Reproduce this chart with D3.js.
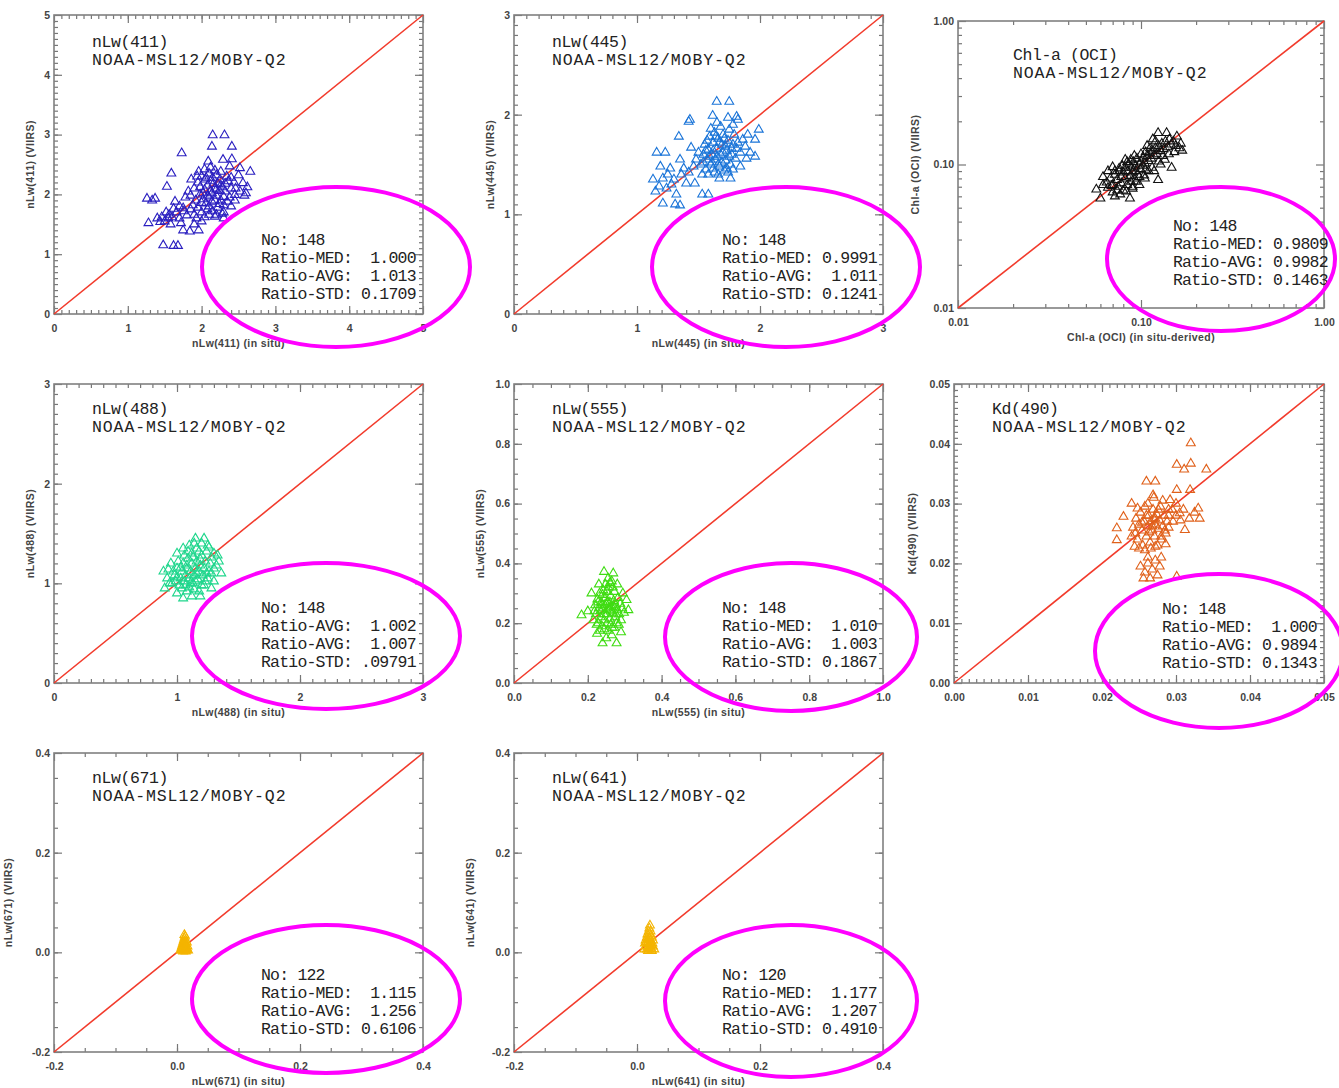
<!DOCTYPE html>
<html><head><meta charset="utf-8">
<script src="https://cdn.jsdelivr.net/npm/d3@7"></script>
<style>body{margin:0;background:#fff}</style>
</head><body><svg id="c" width="1339" height="1088"></svg>
<script>
// ---------------- DATA ----------------
const nlw411 = [[2.15,2.99],[2.31,2.99],[2.14,2.80],[2.41,2.80],[1.73,2.69],[2.09,2.55],[2.29,2.58],[2.41,2.59],[1.59,2.35],[2.66,2.38],[2.52,2.44],[1.53,2.13],[1.26,1.93],[1.37,1.93],[1.33,1.90],[1.28,1.52],[1.44,1.54],[1.55,1.60],[1.48,1.15],[1.62,1.14],[1.68,1.14],[1.75,1.40],[1.84,1.38],[1.96,1.40],[1.64,1.88],[1.75,1.77],[1.93,1.60],[2.18,1.63],[2.45,1.99],[2.56,2.19],[2.44,2.20],[2.60,2.02],[2.52,2.05],[1.80,1.65],[1.85,1.75],[1.40,1.60],[1.60,1.62],[1.70,1.60],[2.30,1.70],[2.38,2.47],
[1.90,2.10],[1.95,2.20],[2.00,2.30],[2.05,2.25],[2.10,2.35],[2.15,2.28],[2.20,2.32],[2.25,2.25],[2.08,2.15],[2.12,2.05],[2.18,2.10],[2.22,2.18],[2.28,2.12],[2.32,2.05],[1.98,2.00],[2.02,1.92],[2.06,1.85],[2.10,1.95],[2.14,1.88],[2.20,1.98],[2.26,1.90],[2.30,1.82],[1.92,1.90],[1.88,1.82],[1.95,1.78],[2.00,1.70],[2.08,1.75],[2.15,1.72],[2.22,1.78],[2.28,1.68],[1.96,2.38],[2.04,2.42],[2.12,2.45],[2.18,2.40],[2.26,2.38],[2.34,2.30],[2.36,2.22],[2.40,2.10],[2.38,1.95],[2.35,1.88],[1.86,2.25],[1.82,2.05],[1.78,1.95],[1.85,1.98],[2.04,2.08],[2.16,2.18],[2.24,2.06],[2.06,2.28],[2.12,2.22],[1.98,2.12],[2.02,2.02],[2.08,1.98],[2.14,2.02],[2.20,2.08],[2.26,2.15],[2.32,2.18],[1.94,2.30],[2.00,1.86],[2.10,1.80],[2.18,1.90],[2.24,1.84],[2.30,1.96],[2.40,2.28],[2.46,2.10],[2.50,2.32],[2.58,1.98],[2.62,2.12],[2.20,1.66],[2.10,1.66],[2.30,1.60],[1.90,1.66],[1.76,1.72],[1.70,1.80],[1.66,1.70],[1.56,1.66],[1.50,1.55],[1.46,1.62],[1.52,1.70],[1.62,1.76],[1.58,1.50],[1.72,1.52],[1.90,1.50],[2.00,1.55],[2.04,1.62],[2.40,1.80],[2.45,1.90]];

const nlw445 = [[1.648,2.13],[1.75,2.13],[1.615,1.99],[1.81,1.98],[1.74,1.97],[1.82,1.95],[1.42,1.93],[1.65,1.92],[1.34,1.78],[1.99,1.85],[1.90,1.80],[1.96,1.75],[1.44,1.67],[1.16,1.62],[1.23,1.62],[1.96,1.58],[1.89,1.56],[1.19,1.48],[1.27,1.46],[1.35,1.55],[1.38,1.46],[1.13,1.35],[1.21,1.36],[1.30,1.35],[1.15,1.23],[1.24,1.26],[1.32,1.20],[1.21,1.11],[1.31,1.10],[1.35,1.09],[1.53,1.20],[1.58,1.20],[1.40,1.31],[1.47,1.31],[1.67,1.36],[1.76,1.36],[1.84,1.48],[1.43,1.95],[1.25,1.40],[1.18,1.28],[1.28,1.30],[1.36,1.40],[1.42,1.42],[1.88,1.68],[1.92,1.62],[1.86,1.75],[1.78,1.90],
[1.52,1.50],[1.54,1.60],[1.55,1.70],[1.56,1.45],[1.57,1.55],[1.58,1.65],[1.59,1.78],[1.60,1.50],[1.61,1.60],[1.62,1.72],[1.63,1.82],[1.63,1.42],[1.64,1.55],[1.65,1.66],[1.66,1.76],[1.67,1.48],[1.68,1.60],[1.69,1.70],[1.70,1.80],[1.71,1.44],[1.72,1.54],[1.73,1.64],[1.74,1.74],[1.75,1.85],[1.76,1.50],[1.77,1.60],[1.78,1.70],[1.79,1.80],[1.80,1.56],[1.81,1.66],[1.53,1.40],[1.58,1.40],[1.66,1.40],[1.74,1.42],[1.78,1.45],[1.60,1.86],[1.68,1.88],[1.57,1.74],[1.62,1.64],[1.65,1.58],[1.70,1.62],[1.72,1.68],[1.67,1.72],[1.64,1.78],[1.61,1.52],[1.69,1.52],[1.75,1.58],[1.59,1.58],[1.50,1.62],[1.48,1.55],[1.46,1.48],[1.82,1.72],[1.84,1.62],[1.77,1.66],[1.71,1.76],[1.66,1.50],[1.73,1.46],[1.62,1.46],[1.56,1.64],[1.54,1.52]];

const chla = [[0.124,0.166],[0.138,0.166],[0.157,0.157],[0.162,0.130],[0.147,0.095],[0.124,0.078],[0.057,0.067],[0.069,0.071],[0.060,0.058],[0.072,0.060],[0.087,0.058],
[0.065,0.075],[0.068,0.080],[0.070,0.072],[0.072,0.085],[0.074,0.078],[0.075,0.070],[0.076,0.090],[0.078,0.082],[0.078,0.074],[0.080,0.088],[0.080,0.066],[0.082,0.095],[0.082,0.080],[0.084,0.072],[0.085,0.090],[0.086,0.100],[0.087,0.083],[0.088,0.076],[0.089,0.095],[0.090,0.088],[0.091,0.104],[0.092,0.080],[0.093,0.097],[0.094,0.090],[0.095,0.110],[0.096,0.085],[0.098,0.100],[0.099,0.093],[0.100,0.105],[0.102,0.098],[0.103,0.112],[0.105,0.102],[0.106,0.092],[0.108,0.115],[0.110,0.106],[0.112,0.120],[0.114,0.110],[0.116,0.125],[0.118,0.115],[0.120,0.130],[0.122,0.118],[0.125,0.135],[0.128,0.124],[0.130,0.140],[0.133,0.128],[0.136,0.145],[0.140,0.132],[0.143,0.150],[0.146,0.138],[0.150,0.145],[0.135,0.108],[0.128,0.100],[0.118,0.090],[0.110,0.090],[0.104,0.084],[0.070,0.064],[0.074,0.066],[0.066,0.069],[0.062,0.072],[0.077,0.062],[0.083,0.065],[0.090,0.070],[0.094,0.076],[0.098,0.082],[0.079,0.098],[0.084,0.104],[0.088,0.108],[0.076,0.094],[0.072,0.090],[0.100,0.118],[0.106,0.122],[0.112,0.130],[0.120,0.145],[0.152,0.122],[0.142,0.118],[0.155,0.135],
[0.062,0.082],[0.066,0.090],[0.070,0.096],[0.090,0.068],[0.098,0.072],[0.105,0.080],[0.115,0.095],[0.125,0.105],[0.132,0.115],[0.108,0.135],[0.116,0.150],[0.092,0.115],[0.082,0.108],[0.165,0.140],[0.168,0.125]];

const nlw488 = [[1.15,1.45],[1.22,1.45],[1.12,0.87],[1.19,0.87],[0.89,1.12],[0.90,0.95],[1.34,1.22],[1.36,1.10],[1.30,1.30],[1.05,1.35],[1.00,1.30],[1.25,1.38],[0.95,1.20],[0.92,1.05],[1.30,1.02],[1.28,0.95],[1.00,0.90],[1.05,0.85],
[0.96,1.00],[0.98,1.08],[1.00,1.15],[1.02,0.98],[1.03,1.05],[1.04,1.12],[1.05,1.20],[1.06,1.02],[1.07,1.08],[1.08,1.15],[1.09,1.25],[1.10,0.96],[1.10,1.05],[1.11,1.12],[1.12,1.20],[1.12,1.30],[1.13,1.00],[1.14,1.08],[1.15,1.15],[1.16,1.22],[1.16,1.35],[1.17,1.04],[1.18,1.12],[1.19,1.18],[1.20,1.28],[1.20,0.98],[1.21,1.08],[1.22,1.15],[1.23,1.22],[1.24,1.32],[1.25,1.05],[1.26,1.12],[1.27,1.20],[1.28,1.26],[1.30,1.15],[1.32,1.18],[1.01,1.22],[0.97,1.12],[0.99,1.02],[1.04,0.95],[1.08,0.92],[1.14,0.94],[1.18,0.92],[1.22,0.98],[1.06,1.28],[1.10,1.38],[1.14,1.40],[1.20,1.40],[1.18,1.32],[1.13,1.26],[1.08,1.18],[1.03,1.16],[1.00,1.06],[0.94,1.00],[0.93,1.14],[1.11,1.00],[1.15,1.02],[1.24,1.10],[1.28,1.10],[1.33,1.28],[1.26,1.36],[1.09,1.32],[1.07,0.98],[1.16,1.10],[1.19,1.24],[1.23,1.02]];

const nlw555 = [[0.244,0.372],[0.269,0.367],[0.240,0.133],[0.278,0.133],[0.183,0.227],[0.305,0.278],[0.310,0.244],[0.255,0.350],[0.265,0.340],[0.230,0.330],[0.250,0.150],[0.265,0.160],[0.225,0.165],[0.290,0.170],[0.200,0.240],[0.295,0.300],[0.210,0.300],[0.280,0.330],
[0.215,0.210],[0.220,0.260],[0.222,0.230],[0.226,0.280],[0.228,0.200],[0.230,0.250],[0.232,0.300],[0.235,0.220],[0.236,0.270],[0.238,0.190],[0.240,0.245],[0.242,0.310],[0.244,0.210],[0.246,0.260],[0.248,0.285],[0.250,0.230],[0.252,0.200],[0.254,0.270],[0.256,0.320],[0.258,0.245],[0.260,0.215],[0.262,0.290],[0.264,0.255],[0.266,0.185],[0.268,0.235],[0.270,0.275],[0.272,0.305],[0.274,0.220],[0.276,0.260],[0.278,0.200],[0.280,0.245],[0.282,0.285],[0.285,0.230],[0.288,0.265],[0.290,0.210],[0.293,0.250],[0.298,0.235],[0.218,0.240],[0.224,0.195],[0.233,0.175],[0.245,0.180],[0.255,0.175],[0.262,0.195],[0.272,0.185],[0.284,0.195],[0.248,0.330],[0.260,0.335],[0.240,0.295],[0.252,0.305],[0.268,0.320],[0.234,0.240],[0.244,0.230],[0.256,0.250],[0.266,0.240],[0.276,0.230],[0.250,0.265],[0.260,0.270],[0.238,0.260],[0.228,0.270],[0.270,0.255]];

const kd490 = [[0.0320,0.0401],[0.0301,0.0365],[0.0311,0.0357],[0.0320,0.0367],[0.0341,0.0357],[0.0260,0.0337],[0.0272,0.0337],[0.0269,0.0314],[0.0301,0.0323],[0.0319,0.0323],[0.0330,0.0292],[0.0332,0.0275],[0.0240,0.0300],[0.0220,0.0259],[0.0220,0.0239],[0.0229,0.0278],[0.0312,0.0256],[0.0305,0.0284],[0.0292,0.0306],[0.0301,0.0178],[0.0325,0.0285],[0.0318,0.0275],[0.0310,0.0290],[0.0300,0.0300],[0.0295,0.0290],[0.0290,0.0280],[0.0285,0.0255],[0.0280,0.0245],
[0.0252,0.0195],[0.0258,0.0185],[0.0262,0.0200],[0.0268,0.0190],[0.0272,0.0205],[0.0278,0.0195],[0.0280,0.0210],[0.0256,0.0175],[0.0265,0.0175],[0.0275,0.0180],[0.0262,0.0210],
[0.0242,0.0260],[0.0245,0.0250],[0.0246,0.0275],[0.0248,0.0240],[0.0250,0.0265],[0.0252,0.0285],[0.0254,0.0255],[0.0255,0.0230],[0.0257,0.0270],[0.0258,0.0295],[0.0260,0.0245],[0.0262,0.0262],[0.0263,0.0280],[0.0265,0.0235],[0.0266,0.0270],[0.0268,0.0255],[0.0269,0.0290],[0.0270,0.0275],[0.0271,0.0245],[0.0272,0.0265],[0.0274,0.0282],[0.0275,0.0230],[0.0276,0.0258],[0.0278,0.0272],[0.0279,0.0295],[0.0280,0.0240],[0.0282,0.0262],[0.0284,0.0280],[0.0286,0.0250],[0.0288,0.0270],[0.0290,0.0290],[0.0244,0.0228],[0.0250,0.0225],[0.0258,0.0222],[0.0266,0.0225],[0.0272,0.0228],[0.0240,0.0245],[0.0248,0.0292],[0.0262,0.0300],[0.0270,0.0310],[0.0282,0.0305],[0.0296,0.0270],[0.0300,0.0280],[0.0306,0.0272],[0.0264,0.0252],[0.0268,0.0262],[0.0272,0.0275],[0.0260,0.0280],[0.0276,0.0290],[0.0254,0.0268],[0.0286,0.0232],[0.0290,0.0260]];

const nlw671 = [[0.006,0.004],[0.009,0.004],[0.012,0.004],[0.015,0.004],[0.018,0.004],[0.007,0.008],[0.010,0.008],[0.013,0.008],[0.016,0.008],[0.008,0.012],[0.011,0.012],[0.014,0.012],[0.017,0.012],[0.009,0.016],[0.012,0.016],[0.015,0.016],[0.010,0.020],[0.013,0.020],[0.016,0.020],[0.011,0.024],[0.014,0.024],[0.012,0.028],[0.013,0.032],[0.012,0.035],[0.010,0.002],[0.014,0.002],[0.016,0.006],[0.008,0.006],[0.012,0.010],[0.012,0.014],[0.013,0.018],[0.011,0.006],[0.015,0.010]];

const nlw641 = [[0.012,0.006],[0.016,0.006],[0.020,0.006],[0.024,0.006],[0.028,0.006],[0.014,0.012],[0.018,0.012],[0.022,0.012],[0.026,0.012],[0.013,0.018],[0.017,0.018],[0.021,0.018],[0.025,0.018],[0.014,0.024],[0.018,0.024],[0.022,0.024],[0.026,0.024],[0.016,0.030],[0.020,0.030],[0.024,0.030],[0.017,0.036],[0.021,0.036],[0.019,0.042],[0.022,0.042],[0.020,0.048],[0.021,0.054],[0.019,0.009],[0.023,0.015],[0.015,0.021],[0.020,0.027],[0.023,0.033],[0.018,0.003],[0.024,0.003]];

const series = [nlw411, nlw445, chla, nlw488, nlw555, kd490, nlw671, nlw641];
const titles = ["nLw(411)", "nLw(445)", "Chl-a (OCI)", "nLw(488)", "nLw(555)", "Kd(490)", "nLw(671)", "nLw(641)"];
const subtitle = "NOAA-MSL12/MOBY-Q2";
const xTitles = ["nLw(411) (in situ)", "nLw(445) (in situ)", "Chl-a (OCI) (in situ-derived)", "nLw(488) (in situ)", "nLw(555) (in situ)", "", "nLw(671) (in situ)", "nLw(641) (in situ)"];
const yTitles = ["nLw(411) (VIIRS)", "nLw(445) (VIIRS)", "Chl-a (OCI) (VIIRS)", "nLw(488) (VIIRS)", "nLw(555) (VIIRS)", "Kd(490) (VIIRS)", "nLw(671) (VIIRS)", "nLw(641) (VIIRS)"];
const statsLines = [
  ["No: 148", "Ratio-MED:  1.000", "Ratio-AVG:  1.013", "Ratio-STD: 0.1709"],
  ["No: 148", "Ratio-MED: 0.9991", "Ratio-AVG:  1.011", "Ratio-STD: 0.1241"],
  ["No: 148", "Ratio-MED: 0.9809", "Ratio-AVG: 0.9982", "Ratio-STD: 0.1463"],
  ["No: 148", "Ratio-AVG:  1.002", "Ratio-AVG:  1.007", "Ratio-STD: .09791"],
  ["No: 148", "Ratio-MED:  1.010", "Ratio-AVG:  1.003", "Ratio-STD: 0.1867"],
  ["No: 148", "Ratio-MED:  1.000", "Ratio-AVG: 0.9894", "Ratio-STD: 0.1343"],
  ["No: 122", "Ratio-MED:  1.115", "Ratio-AVG:  1.256", "Ratio-STD: 0.6106"],
  ["No: 120", "Ratio-MED:  1.177", "Ratio-AVG:  1.207", "Ratio-STD: 0.4910"]
];
const domains = [[0,5],[0,3],[0.01,1],[0,3],[0,1],[0,0.05],[-0.2,0.4],[-0.2,0.4]];
const tickValues = [[0,1,2,3,4,5],[0,1,2,3],[0.01,0.1,1],[0,1,2,3],[0,0.2,0.4,0.6,0.8,1.0],[0,0.01,0.02,0.03,0.04,0.05],[-0.2,0,0.2,0.4],[-0.2,0,0.2,0.4]];
const tickLabels = [["0","1","2","3","4","5"],["0","1","2","3"],["0.01","0.10","1.00"],["0","1","2","3"],["0.0","0.2","0.4","0.6","0.8","1.0"],["0.00","0.01","0.02","0.03","0.04","0.05"],["-0.2","0.0","0.2","0.4"],["-0.2","0.0","0.2","0.4"]];
const minorPerMajor = [10, 10, 0, 10, 4, 10, 4, 4];

// ---------------- LAYOUT / STYLE ----------------
const frames = [
  {x0:54,x1:423,y0:15,y1:314}, {x0:514,x1:883,y0:15,y1:314}, {x0:958,x1:1324,y0:21,y1:308},
  {x0:54,x1:423,y0:384,y1:683}, {x0:514,x1:883,y0:384,y1:683}, {x0:954,x1:1324,y0:384,y1:683},
  {x0:54,x1:423,y0:753,y1:1052}, {x0:514,x1:883,y0:753,y1:1052}
];
const titleOff = [[38,32],[38,32],[55,39],[38,30],[38,30],[38,30],[38,30],[38,30]];
const statsOff = [[207,230],[208,230],[215,210],[207,229],[208,229],[208,230],[207,227],[208,227]];
const yTitleOff = [24,24,43,24,34,42,46,44];
const ellipses = [[336,267,134,80],[786,267,134,80],[1221,259,114,72],[326,636,134,73],[791,637,126,74],[1219,651,124,77],[326,999,134,74],[791,1001,126,76]];
const colors = ["#2a1fc0","#1a74d8","#111111","#1ed68c","#3fdc12","#e0601a","#f4b400","#f4b400"];

const svg = d3.select("#c");
const tri = d3.symbol().type(d3.symbolTriangle).size(34);
const mono = "'Liberation Mono','DejaVu Sans Mono',monospace";
const sans = "'Liberation Sans',Arial,sans-serif";

series.forEach((data, i) => {
  const f = frames[i];
  const isLog = i === 2;
  const x = (isLog ? d3.scaleLog() : d3.scaleLinear()).domain(domains[i]).range([f.x0, f.x1]);
  const y = (isLog ? d3.scaleLog() : d3.scaleLinear()).domain(domains[i]).range([f.y1, f.y0]);
  const g = svg.append("g");

  // minor ticks
  let minors = [];
  if (isLog) {
    [0.01, 0.1].forEach(b => { for (let k = 2; k <= 9; k++) minors.push(b * k); });
  } else {
    const tv = tickValues[i], step = (tv[1] - tv[0]) / minorPerMajor[i];
    const n = Math.round((domains[i][1] - domains[i][0]) / step);
    for (let k = 1; k < n; k++) minors.push(domains[i][0] + k * step);
  }
  const mk = (axisFn, scale, vals, size) => axisFn(scale).tickValues(vals).tickSize(size).tickFormat("");
  const axes = [
    [d3.axisBottom, x, `translate(0,${f.y1})`],
    [d3.axisTop, x, `translate(0,${f.y0})`],
    [d3.axisLeft, y, `translate(${f.x0},0)`],
    [d3.axisRight, y, `translate(${f.x1},0)`]
  ];
  axes.forEach(([fn, sc, tr]) => {
    const a1 = g.append("g").attr("transform", tr).call(mk(fn, sc, minors, -4));
    const a2 = g.append("g").attr("transform", tr).call(mk(fn, sc, tickValues[i], -8));
    [a1, a2].forEach(a => { a.select(".domain").remove(); a.selectAll("line").attr("stroke", "#777").attr("stroke-width", 1.2); });
  });

  // tick labels
  const fmtMap = new Map(tickValues[i].map((v, k) => [v, tickLabels[i][k]]));
  const bx = g.append("g").attr("transform", `translate(0,${f.y1})`)
    .call(d3.axisBottom(x).tickValues(tickValues[i]).tickSize(0).tickPadding(11).tickFormat(v => fmtMap.get(v)));
  const ly = g.append("g").attr("transform", `translate(${f.x0},0)`)
    .call(d3.axisLeft(y).tickValues(tickValues[i]).tickSize(0).tickPadding(4).tickFormat(v => fmtMap.get(v)));
  [bx, ly].forEach(a => {
    a.select(".domain").remove();
    a.selectAll("text").attr("font-family", sans).attr("font-size", 10.5).attr("font-weight", "bold").attr("fill", "#444");
  });

  // frame
  g.append("rect").attr("x", f.x0).attr("y", f.y0).attr("width", f.x1 - f.x0).attr("height", f.y1 - f.y0)
    .attr("fill", "none").attr("stroke", "#808080").attr("stroke-width", 1.6);

  // axis titles
  if (xTitles[i]) g.append("text").attr("x", (f.x0 + f.x1) / 2).attr("y", f.y1 + 33)
    .attr("text-anchor", "middle").attr("font-family", sans).attr("font-size", 10.5).attr("font-weight", "bold").attr("fill", "#444")
    .attr("letter-spacing", 0.4).text(xTitles[i]);
  g.append("text").attr("transform", `translate(${f.x0 - yTitleOff[i] + 4},${(f.y0 + f.y1) / 2}) rotate(-90)`)
    .attr("text-anchor", "middle").attr("font-family", sans).attr("font-size", 10.5).attr("font-weight", "bold").attr("fill", "#444")
    .attr("letter-spacing", 0.4).text(yTitles[i]);

  // one-to-one line
  g.append("line").attr("x1", x(domains[i][0])).attr("y1", y(domains[i][0]))
    .attr("x2", x(domains[i][1])).attr("y2", y(domains[i][1]))
    .attr("stroke", "#f23b2c").attr("stroke-width", 1.6);

  // points
  g.append("g").selectAll("path").data(data).join("path")
    .attr("transform", d => `translate(${x(d[0])},${y(d[1])})`)
    .attr("d", tri).attr("fill", "none").attr("stroke", colors[i]).attr("stroke-width", 1.1);

  // title texts
  const tx = f.x0 + titleOff[i][0], ty = f.y0 + titleOff[i][1];
  g.append("text").attr("x", tx).attr("y", ty).attr("font-family", mono).attr("font-size", 16.5)
    .attr("letter-spacing", -0.4).attr("fill", "#222").text(titles[i]);
  g.append("text").attr("x", tx).attr("y", ty + 18).attr("font-family", mono).attr("font-size", 16.5)
    .attr("letter-spacing", 0.9).attr("fill", "#222").text(subtitle);

  // stats
  const sx = f.x0 + statsOff[i][0], sy = f.y0 + statsOff[i][1];
  statsLines[i].forEach((s, k) => {
    g.append("text").attr("x", sx).attr("y", sy + k * 18).attr("font-family", mono).attr("font-size", 16.5)
      .attr("letter-spacing", -0.8).attr("fill", "#222").style("white-space", "pre").text(s);
  });
});

// ellipses on top
svg.append("g").selectAll("ellipse").data(ellipses).join("ellipse")
  .attr("cx", d => d[0]).attr("cy", d => d[1]).attr("rx", d => d[2]).attr("ry", d => d[3])
  .attr("fill", "none").attr("stroke", "#ff00ff").attr("stroke-width", 4);
</script>
</body></html>
